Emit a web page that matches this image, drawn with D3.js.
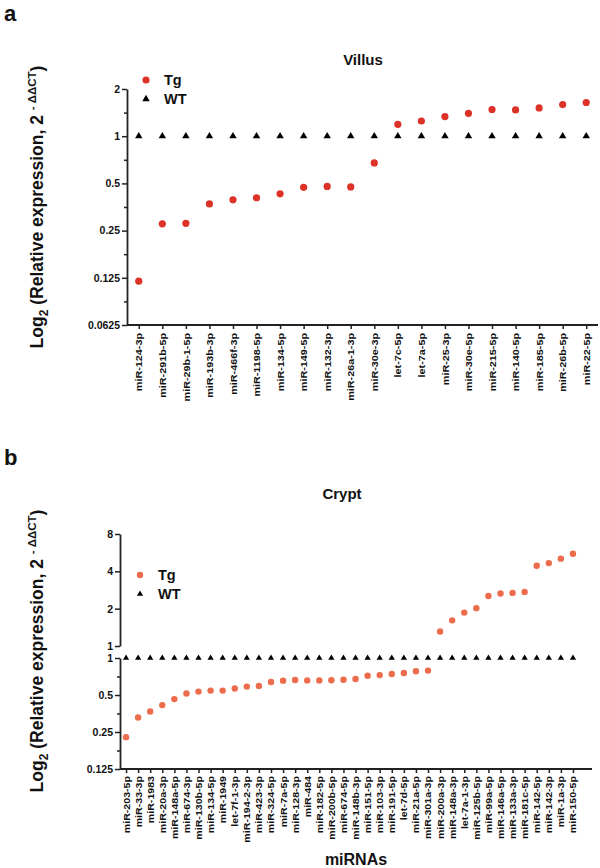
<!DOCTYPE html>
<html><head><meta charset="utf-8">
<script src="https://cdn.jsdelivr.net/npm/d3@7"></script>
<style>
body{margin:0;background:#fff}
svg text{font-family:"Liberation Sans",Arial,sans-serif;font-weight:bold;fill:#111}
</style>
</head><body>
<svg id="c" width="600" height="868"></svg>
<script>
// ---------- Panel a: Villus ----------
const catsA = ["miR-124-3p","miR-291b-5p","miR-29b-1-5p","miR-193b-3p","miR-466f-3p","miR-1198-5p","miR-134-5p","miR-149-5p","miR-132-3p","miR-26a-1-3p","miR-30e-3p","let-7c-5p","let-7a-5p","miR-25-3p","miR-30e-5p","miR-215-5p","miR-140-5p","miR-185-5p","miR-26b-5p","miR-22-5p"];
const tgA = [0.119,0.276,0.278,0.370,0.393,0.405,0.429,0.472,0.478,0.475,0.675,1.19,1.25,1.335,1.40,1.48,1.47,1.515,1.59,1.64];
const wtA = [1,1,1,1,1,1,1,1,1,1,1,1,1,1,1,1,1,1,1,1];
const yTicksA = [0.0625,0.125,0.25,0.5,1,2];
const yTickLabelsA = ["0.0625","0.125","0.25","0.5","1","2"];
const yMinorA = [0.0884,0.1768,0.3536,0.7071,1.4142];

// ---------- Panel b: Crypt ----------
const catsB = ["miR-203-5p","miR-33-3p","miR-1983","miR-20a-3p","miR-148a-5p","miR-674-3p","miR-130b-5p","miR-134-5p","miR-1949","let-7f-1-3p","miR-194-2-3p","miR-423-3p","miR-324-5p","miR-7a-5p","miR-128-3p","miR-484","miR-182-5p","miR-200b-5p","miR-674-5p","miR-148b-3p","miR-151-5p","miR-103-3p","miR-191-5p","let-7d-5p","miR-21a-5p","miR-301a-3p","miR-200a-3p","miR-148a-3p","let-7a-1-3p","miR-125b-5p","miR-99a-5p","miR-146a-5p","miR-133a-3p","miR-181c-5p","miR-142-5p","miR-142-3p","miR-1a-3p","miR-150-5p"];
const tgB = [0.227,0.328,0.367,0.414,0.463,0.514,0.533,0.543,0.543,0.564,0.585,0.593,0.638,0.654,0.662,0.657,0.657,0.660,0.665,0.674,0.717,0.726,0.740,0.754,0.781,0.790,1.31,1.61,1.86,2.02,2.53,2.65,2.68,2.73,4.44,4.66,5.06,5.54];
const wtB = [1,1,1,1,1,1,1,1,1,1,1,1,1,1,1,1,1,1,1,1,1,1,1,1,1,1,1,1,1,1,1,1,1,1,1,1,1,1];
const yTicksBUpper = [1,2,4,8];
const yTickLabelsBUpper = ["1","2","4","8"];
const yTicksBLower = [0.125,0.25,0.5,1];
const yTickLabelsBLower = ["0.125","0.25","0.5","1"];
const yMinorBLower = [0.1768,0.3536,0.7071];

const legendNames = ["Tg","WT"];

const svg = d3.select("#c");
const AX = "#222";

function styleAxis(g){
  g.selectAll("path.domain").attr("stroke",AX).attr("stroke-width",1.8);
  g.selectAll(".tick line").attr("stroke",AX).attr("stroke-width",1.5);
}

function yAxis(g, scale, ticks, labels, minor, x){
  const a = g.append("g").attr("transform",`translate(${x},0)`)
    .call(d3.axisLeft(scale).tickValues(ticks).tickFormat((d,i)=>labels[i]).tickSize(5).tickSizeOuter(0).tickPadding(2));
  a.selectAll("text").attr("font-size",10.5).style("font-family",'"Liberation Sans",Arial,sans-serif').style("font-weight","bold").attr("fill","#111");
  styleAxis(a);
  if(minor){
    const m = g.append("g").attr("transform",`translate(${x},0)`)
      .call(d3.axisLeft(scale).tickValues(minor).tickFormat("").tickSize(3).tickSizeOuter(0));
    m.select("path.domain").remove();
    styleAxis(m);
  }
  return a;
}

function xAxis(g, scale, y, x0, x1, fs, sx, off){
  const a = g.append("g").attr("transform",`translate(0,${y})`)
    .call(d3.axisBottom(scale).tickSize(4).tickSizeOuter(0));
  a.select("path.domain").remove();
  styleAxis(a);
  a.selectAll("text").attr("x",0).attr("y",0).attr("dy","0.35em")
    .attr("text-anchor","end").attr("font-size",fs)
    .style("font-family",'"Liberation Sans",Arial,sans-serif').style("font-weight","bold").attr("fill","#111")
    .attr("transform",`translate(0,${off}) rotate(-90) scale(${sx},1)`);
  g.append("line").attr("x1",x0).attr("x2",x1).attr("y1",y).attr("y2",y).attr("stroke",AX).attr("stroke-width",1.8);
}

function yTitle(g, x, cy){
  const t = g.append("text").attr("transform",`translate(${x},${cy}) rotate(-90)`).attr("text-anchor","middle").attr("font-size",17.5);
  t.append("tspan").text("Log");
  t.append("tspan").attr("font-size",12).attr("dy",5).text("2");
  t.append("tspan").attr("dy",-5).text(" (Relative expression, 2 ");
  t.append("tspan").attr("font-size",11.5).attr("dy",-7).text("- \u0394\u0394CT");
  t.append("tspan").attr("dy",7).text(")");
}

function legend(g, x, y1, y2, color, r, tsize){
  g.append("circle").attr("cx",x).attr("cy",y1).attr("r",r).attr("fill",color);
  g.append("path").attr("d",d3.symbol(d3.symbolTriangle,tsize)()).attr("transform",`translate(${x},${y2})`).attr("fill","#000");
  g.append("text").attr("x",x+18).attr("y",y1+5).attr("font-size",14.5).text(legendNames[0]);
  g.append("text").attr("x",x+18).attr("y",y2+5).attr("font-size",14.5).text(legendNames[1]);
}

// ===== Panel a =====
{
  const g = svg.append("g");
  const colA = "#dc3228";
  g.append("text").attr("x",4).attr("y",21).attr("font-size",22).text("a");
  g.append("text").attr("x",363).attr("y",65).attr("text-anchor","middle").attr("font-size",15).text("Villus");
  const x = d3.scalePoint().domain(catsA).range([127,598]).padding(0.5);
  const y = d3.scaleLog().base(2).domain([0.0625,2]).range([325,89]);
  xAxis(g, x, 325, 127, 598, 9, 1.2, 8);
  yAxis(g, y, yTicksA, yTickLabelsA, yMinorA, 127);
  yTitle(g, 43, 207);
  g.append("g").selectAll("path").data(wtA).join("path")
    .attr("d",d3.symbol(d3.symbolTriangle,24)())
    .attr("transform",(d,i)=>`translate(${x(catsA[i])},${y(d)})`).attr("fill","#000");
  g.append("g").selectAll("circle").data(tgA).join("circle")
    .attr("cx",(d,i)=>x(catsA[i])).attr("cy",d=>y(d)).attr("r",3.6).attr("fill",colA);
  legend(g, 146, 80, 99, colA, 3.6, 24);
}

// ===== Panel b =====
{
  const g = svg.append("g");
  const colB = "#ec6c4c";
  g.append("text").attr("x",4).attr("y",465).attr("font-size",22).text("b");
  g.append("text").attr("x",342).attr("y",499).attr("text-anchor","middle").attr("font-size",15).text("Crypt");
  const x = d3.scalePoint().domain(catsB).range([120,579]).padding(0.5);
  const yU = d3.scaleLog().base(2).domain([1,8]).range([646,534]);
  const yL = d3.scaleLog().base(2).domain([0.125,1]).range([769,658]);
  const yv = v => v > 1 ? yU(v) : yL(v);
  xAxis(g, x, 769, 120, 592, 8.5, 1.25, 7);
  yAxis(g, yU, yTicksBUpper, yTickLabelsBUpper, null, 120);
  yAxis(g, yL, yTicksBLower, yTickLabelsBLower, yMinorBLower, 120);
  yTitle(g, 43, 651);
  g.append("text").attr("x",356).attr("y",865).attr("text-anchor","middle").attr("font-size",16).text("miRNAs");
  g.append("g").selectAll("path").data(wtB).join("path")
    .attr("d",d3.symbol(d3.symbolTriangle,17)())
    .attr("transform",(d,i)=>`translate(${x(catsB[i])},${yL(d)})`).attr("fill","#000");
  g.append("g").selectAll("circle").data(tgB).join("circle")
    .attr("cx",(d,i)=>x(catsB[i])).attr("cy",d=>yv(d)).attr("r",3.2).attr("fill",colB);
  legend(g, 140, 575, 594, colB, 3.2, 17);
}
</script>
</body></html>
